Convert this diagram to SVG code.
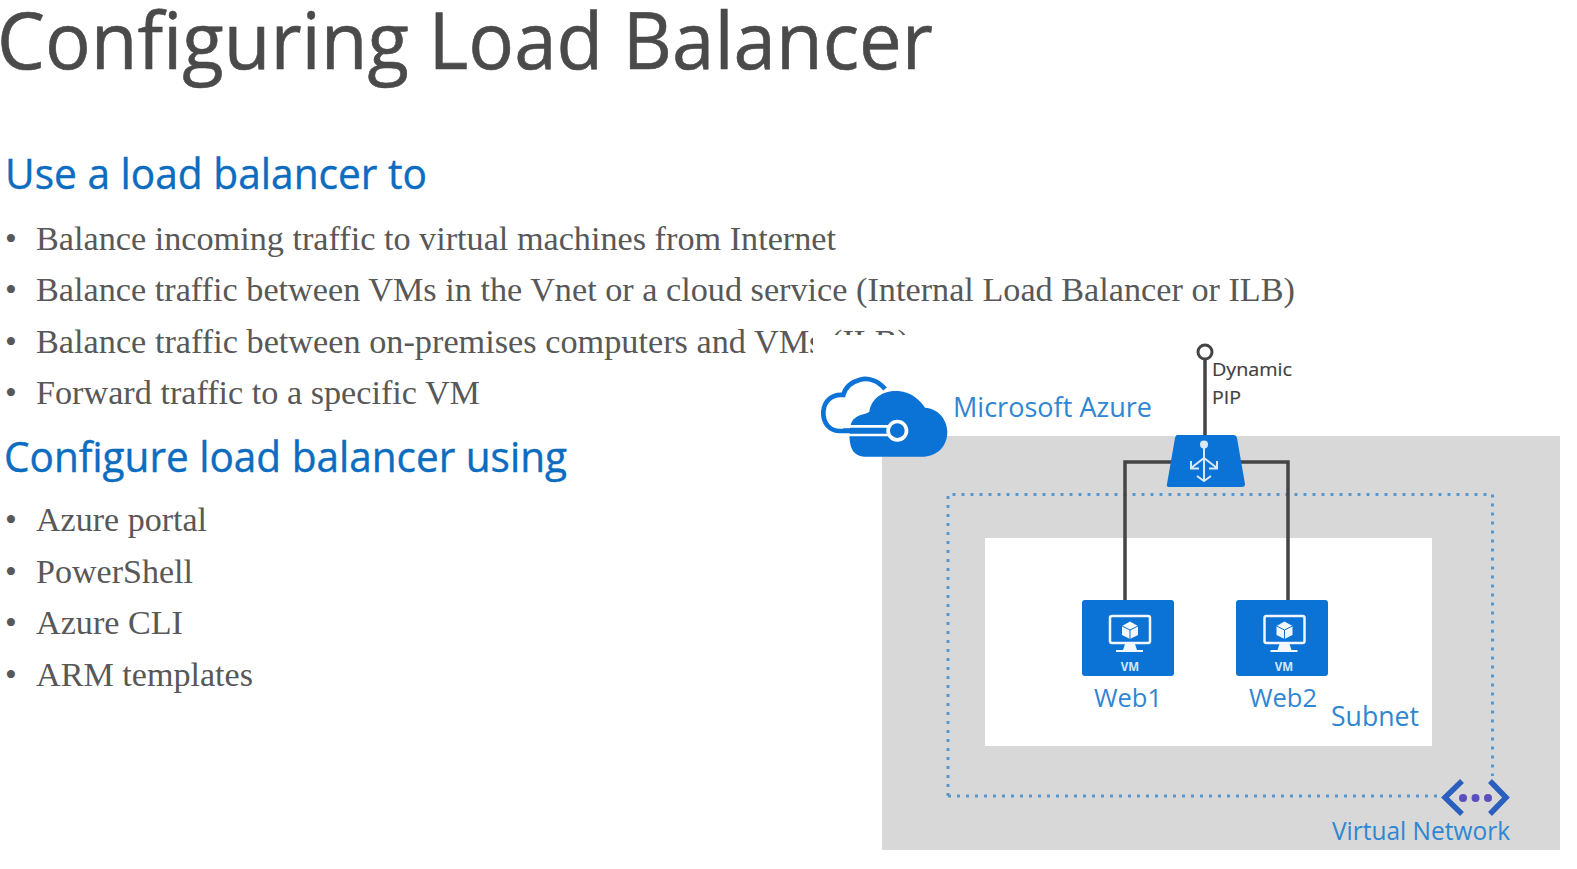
<svg xmlns="http://www.w3.org/2000/svg" width="1577" height="869" viewBox="0 0 1577 869">
<style>
.title{font-family:"Open Sans","Noto Sans",sans-serif;font-size:78px;fill:#4a4a4a;stroke:#4a4a4a;stroke-width:.6}
.head{font-family:"Open Sans","Noto Sans",sans-serif;font-size:41.500px;fill:#0b6cc0;stroke:#0b6cc0;stroke-width:.4}
.body{font-family:"Liberation Serif",serif;font-size:33.700px;fill:#585858}
.lab{font-family:"Open Sans","Noto Sans",sans-serif;fill:#2f86d2}
.dark{font-family:"Open Sans","Noto Sans",sans-serif;font-size:19px;fill:#404040;stroke:#404040;stroke-width:.2}
.vml{font-family:"Open Sans",sans-serif;font-weight:700;font-size:11.500px;fill:#d5e6f8;text-anchor:middle}
.conn{fill:none;stroke:#444;stroke-width:3.500}
.dot{fill:none;stroke:#5b97cc;stroke-width:3;stroke-dasharray:3 6}
.vmbox{fill:#0b72d6}
.w{fill:none;stroke:#f2f7fd;stroke-width:2.500}
</style>
<rect width="1577" height="869" fill="#fff"/>
<g id="text">
<text class="title" x="-3" y="69" textLength="936" lengthAdjust="spacingAndGlyphs">Configuring Load Balancer</text>
<text class="head" x="5" y="189" textLength="422" lengthAdjust="spacingAndGlyphs">Use a load balancer to</text>
<g class="body">
<text x="5" y="250">•</text><text x="36" y="250" textLength="800" lengthAdjust="spacingAndGlyphs">Balance incoming traffic to virtual machines from Internet</text>
<text x="5" y="301">•</text><text x="36" y="301" textLength="1259" lengthAdjust="spacingAndGlyphs">Balance traffic between VMs in the Vnet or a cloud service (Internal Load Balancer or ILB)</text>
<text x="5" y="352.500">•</text><text x="36" y="352.500" textLength="873" lengthAdjust="spacingAndGlyphs">Balance traffic between on-premises computers and VMs (ILB)</text>
<text x="5" y="403.500">•</text><text x="36" y="403.500" textLength="444" lengthAdjust="spacingAndGlyphs">Forward traffic to a specific VM</text>
</g>
<text class="head" x="4" y="471.500" textLength="563" lengthAdjust="spacingAndGlyphs">Configure load balancer using</text>
<g class="body">
<text x="5" y="531">•</text><text x="36" y="531" textLength="171" lengthAdjust="spacingAndGlyphs">Azure portal</text>
<text x="5" y="582.500">•</text><text x="36" y="582.500" textLength="157" lengthAdjust="spacingAndGlyphs">PowerShell</text>
<text x="5" y="634">•</text><text x="36" y="634" textLength="147" lengthAdjust="spacingAndGlyphs">Azure CLI</text>
<text x="5" y="686">•</text><text x="36" y="686" textLength="217" lengthAdjust="spacingAndGlyphs">ARM templates</text>
</g>
</g>
<rect id="mask" x="813" y="335" width="764" height="101" fill="#fff"/>
<rect id="vnet-bg" x="882" y="436" width="678" height="414" fill="#d8d8d8"/>
<rect id="subnet-bg" x="985" y="538" width="447" height="208" fill="#fff"/>
<path class="dot" d="M948 796V494.500H1492.500V776M948 796H1437"/>
<g id="connectors">
<path class="conn" d="M1205 359V437M1172 462H1125V600M1238 462H1288V600"/>
</g>
<g id="pip">
<circle cx="1205" cy="352" r="7" fill="#fff" stroke="#444" stroke-width="3"/>
<text class="dark" x="1212" y="376" textLength="80" lengthAdjust="spacingAndGlyphs">Dynamic</text>
<text class="dark" x="1212" y="404" textLength="29" lengthAdjust="spacingAndGlyphs">PIP</text>
</g>
<g id="azure">
<g transform="translate(810 365) scale(.33333)">
<path d="M225 72C205 47 175 37 150 44C120 52 105 70 100 90C65 86 42 110 40 140C38 175 60 198 90 198H235" fill="none" stroke="#0b72d6" stroke-width="14"/>
<path d="M125 250C112 215 120 165 135 160C150 145 165 150 178 140C185 95 225 75 265 78C305 82 330 105 345 128C385 130 412 165 412 200C412 245 380 275 335 275H165C145 275 130 265 125 250Z" fill="#0b72d6"/>
<path d="M115 184H240M115 210H240" fill="none" stroke="#fff" stroke-width="8"/>
<path d="M100 197H245" fill="none" stroke="#0b72d6" stroke-width="14"/>
<circle cx="262" cy="197" r="33" fill="#fff"/>
<circle cx="262" cy="197" r="22" fill="#0b72d6"/>
</g>
<text class="lab" x="953" y="417" font-size="27" textLength="199" lengthAdjust="spacingAndGlyphs">Microsoft Azure</text>
</g>
<g id="lb">
<path d="M1177 435H1234Q1236 435 1237 438L1245 484Q1245 487 1242 487H1169Q1166 487 1167 484L1175 438Q1176 435 1177 435Z" fill="#0b72d6"/>
<g fill="none" stroke="#d8e8f8" stroke-width="2"><path d="M1204 445V480M1204 458L1191 468M1204 458L1217 468M1191 461V468.500H1199M1217 461V468.500H1209M1197 476L1204 481L1211 476"/></g>
<circle cx="1204" cy="444.500" r="4" fill="#d8e8f8"/>
</g>
<defs>
<g id="vmicon">
<rect class="w" x="1110" y="616" width="40" height="27" rx="2"/>
<path d="M1130 621.500L1138 626V635L1130 639L1122 635V626Z" fill="#f2f7fd"/>
<path d="M1130 630V639M1130 630L1122 626M1130 630L1138 626" stroke="#0b72d6" stroke-width="1" fill="none"/>
<path d="M1125 644H1135L1137 650H1123Z" fill="#f2f7fd"/>
<path d="M1116 651H1143" stroke="#f2f7fd" stroke-width="2"/>
</g>
</defs>
<g id="web1">
<rect class="vmbox" x="1082" y="600" width="92" height="76" rx="3"/>
<use href="#vmicon"/>
<text class="vml" x="1130" y="671">VM</text>
<text class="lab" x="1128" y="707" font-size="25.500" text-anchor="middle">Web1</text>
</g>
<g id="web2">
<rect class="vmbox" x="1236" y="600" width="92" height="76" rx="3"/>
<use href="#vmicon" x="154.500"/>
<text class="vml" x="1284" y="671">VM</text>
<text class="lab" x="1283" y="707" font-size="25.500" text-anchor="middle">Web2</text>
</g>
<g id="subnet"><text class="lab" x="1331" y="726" font-size="27" textLength="88" lengthAdjust="spacingAndGlyphs">Subnet</text></g>
<g id="vnet">
<path d="M1462 781L1445 797.500L1462 814M1490 781L1506 797.500L1490 814" fill="none" stroke="#2b5fbe" stroke-width="5.500"/>
<circle cx="1463" cy="798" r="4" fill="#5a4fc0"/><circle cx="1475.500" cy="798" r="4" fill="#5a4fc0"/><circle cx="1488" cy="798" r="4" fill="#5a4fc0"/>
<text class="lab" x="1332" y="840" font-size="25.500" textLength="178" lengthAdjust="spacingAndGlyphs">Virtual Network</text>
</g>
</svg>
